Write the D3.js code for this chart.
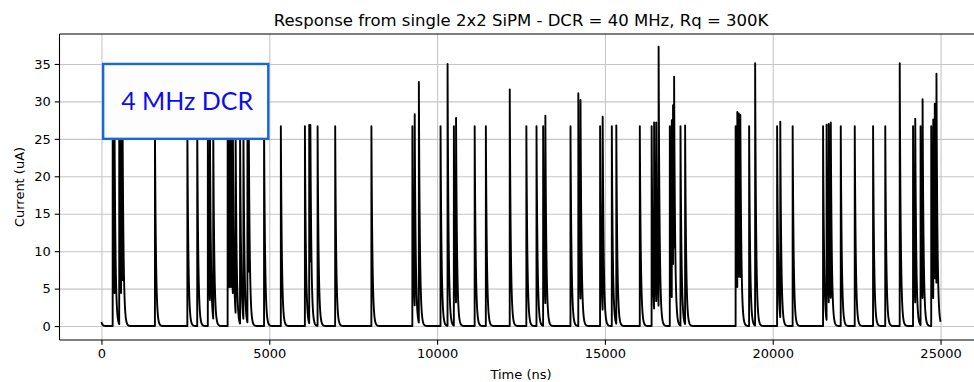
<!DOCTYPE html>
<html>
<head>
<meta charset="utf-8">
<script src="https://cdn.jsdelivr.net/npm/d3@7"></script>
<style>
  html, body { margin: 0; padding: 0; background: #fff; }
  svg { display: block; font-family: "DejaVu Sans", sans-serif; }
</style>
</head>
<body>
<div class="svg-container"></div>
<script>
// pulse arrival times (ns) and the peak current seen at each one (uA)
const pulseTimes = [
  335, 390, 530, 585, 630, 1594, 2560, 2854, 3170, 3232, 3331,
  3760, 3810, 3860, 3915, 3997, 4130, 4230, 4350, 4390, 4845,
  5345, 6062, 6190, 6225, 6440, 6964, 8043,
  9264, 9333, 9457, 10103, 10312, 10500, 10565, 11120, 11453,
  12165, 12660, 12962, 13160, 13226, 13975, 14208, 14273,
  14857, 14933, 15206, 15340, 16040, 16392, 16466, 16530, 16600,
  16934, 16993, 17030, 17062, 17252, 17390,
  18895, 18945, 18990, 19035, 19297, 19476, 20131, 20225, 20594,
  21500, 21605, 21670, 21730, 22027, 22444, 22990, 23353, 23784,
  24181, 24246, 24405, 24465, 24723, 24783, 24828, 24878
];
const pulsePeaks = [
  26.7, 26.7, 26.7, 26.7, 26.7, 26.7, 26.7, 26.7, 26.7, 26.7, 26.7,
  26.7, 26.7, 26.7, 26.7, 26.7, 26.7, 26.7, 26.7, 26.7, 26.7,
  26.7, 26.7, 26.85, 26.85, 26.7, 26.7, 26.7,
  26.7, 28.3, 32.6, 26.7, 35.0, 26.7, 27.8, 26.7, 26.7,
  31.6, 26.7, 26.7, 26.7, 28.1, 26.7, 31.1, 30.2,
  26.7, 27.95, 26.7, 26.8, 26.7, 26.7, 27.2, 27.2, 37.3,
  26.7, 27.5, 29.5, 33.3, 26.7, 26.8,
  26.7, 28.6, 28.4, 28.2, 26.7, 35.1, 26.7, 27.3, 26.7,
  26.7, 26.9, 27.0, 27.2, 26.7, 26.7, 26.7, 26.7, 35.1,
  26.7, 27.7, 26.7, 30.3, 26.7, 27.6, 29.7, 33.7
];
const startCurrent = 0.55;   // tail of a pulse before t = 0
const decayTau = 30;         // ns
const tEnd = 25000;

const xTicks = [0, 5000, 10000, 15000, 20000, 25000];
const yTicks = [0, 5, 10, 15, 20, 25, 30, 35];
const titleText = "Response from single 2x2 SiPM - DCR = 40 MHz, Rq = 300K";
const boxText = "4 MHz DCR";

const width = 974, height = 382;
const margin = { top: 34, bottom: 42, left: 59.5, right: -8.5 };

// build the trace at 1 ns steps: peaks at the pulse times, exponential tail in between
const peakAt = new Map(pulseTimes.map((t, i) => [t, pulsePeaks[i]]));
const trace = [];
const k = Math.exp(-1 / decayTau);
let v = startCurrent;
for (let t = 0; t <= tEnd; t++) {
  if (t > 0) v *= k;
  if (peakAt.has(t)) v = Math.max(v, peakAt.get(t));
  trace.push({ t: t, i: v });
}

const svg = d3.select('.svg-container').append('svg')
  .attr('width', width)
  .attr('height', height);

const x = d3.scaleLinear()
  .domain([-1250, 26250])
  .range([margin.left, width - margin.right]);

const y = d3.scaleLinear()
  .domain([-1.86, 39.0])
  .range([height - margin.bottom, margin.top]);

const plotH = height - margin.bottom - margin.top;
const plotW = width - margin.right - margin.left;

svg.append('clipPath').attr('id', 'plot-clip')
  .append('rect')
  .attr('x', margin.left).attr('y', margin.top)
  .attr('width', plotW).attr('height', plotH);

// grid
svg.append('g')
  .attr('transform', `translate(0, ${height - margin.bottom})`)
  .call(d3.axisBottom(x).tickValues(xTicks).tickSize(-plotH).tickFormat(''))
  .call(g => g.select('.domain').remove())
  .call(g => g.selectAll('line').attr('stroke', '#c6c6c6').attr('stroke-width', 1.1));

svg.append('g')
  .attr('transform', `translate(${margin.left}, 0)`)
  .call(d3.axisLeft(y).tickValues(yTicks).tickSize(-plotW).tickFormat(''))
  .call(g => g.select('.domain').remove())
  .call(g => g.selectAll('line').attr('stroke', '#c6c6c6').attr('stroke-width', 1.1));

// the trace
const line = d3.line()
  .x(d => x(d.t))
  .y(d => y(d.i));

svg.append('path')
  .datum(trace)
  .attr('clip-path', 'url(#plot-clip)')
  .attr('fill', 'none')
  .attr('stroke', '#000')
  .attr('stroke-width', 1.9)
  .attr('stroke-linejoin', 'round')
  .attr('d', line);

// axes
const xAxis = svg.append('g')
  .attr('transform', `translate(0, ${height - margin.bottom})`)
  .call(d3.axisBottom(x).tickValues(xTicks).tickSize(4.8).tickPadding(4).tickFormat(d3.format('d')));

const yAxis = svg.append('g')
  .attr('transform', `translate(${margin.left}, 0)`)
  .call(d3.axisLeft(y).tickValues(yTicks).tickSize(4.8).tickPadding(4).tickFormat(d3.format('d')));

[xAxis, yAxis].forEach(g => {
  g.select('.domain').remove();
  g.selectAll('line').attr('stroke', '#000').attr('stroke-width', 1.1);
  g.selectAll('text')
    .attr('fill', '#000')
    .style('font-family', '"DejaVu Sans", sans-serif')
    .style('font-size', '13px');
});

// spines (left, top, bottom; the right one lies past the window edge)
const spines = svg.append('g').attr('stroke', '#000').attr('stroke-width', 1.1).attr('fill', 'none');
spines.append('line').attr('x1', margin.left).attr('x2', margin.left)
  .attr('y1', margin.top).attr('y2', height - margin.bottom);
spines.append('line').attr('x1', margin.left).attr('x2', width - margin.right)
  .attr('y1', margin.top).attr('y2', margin.top);
spines.append('line').attr('x1', margin.left).attr('x2', width - margin.right)
  .attr('y1', height - margin.bottom).attr('y2', height - margin.bottom);

// title and labels
svg.append('text')
  .attr('x', margin.left + plotW / 2)
  .attr('y', 26)
  .attr('text-anchor', 'middle')
  .style('font-size', '16.5px')
  .text(titleText);

svg.append('text')
  .attr('x', margin.left + plotW / 2)
  .attr('y', 379)
  .attr('text-anchor', 'middle')
  .style('font-size', '13px')
  .text('Time (ns)');

svg.append('text')
  .attr('transform', 'rotate(-90)')
  .attr('x', -(margin.top + plotH / 2))
  .attr('y', 24)
  .attr('text-anchor', 'middle')
  .style('font-size', '13px')
  .text('Current (uA)');

// annotation box
const bx0 = x(50), bx1 = x(4970), by0 = y(35), by1 = y(25);
svg.append('rect')
  .attr('x', bx0).attr('y', by0)
  .attr('width', bx1 - bx0).attr('height', by1 - by0)
  .attr('fill', '#fdfdfd')
  .attr('stroke', '#1768da')
  .attr('stroke-width', 2.4);

svg.append('text')
  .attr('x', (bx0 + bx1) / 2 + 1.5)
  .attr('y', (by0 + by1) / 2 + 9)
  .attr('text-anchor', 'middle')
  .attr('fill', '#0c0cf2')
  .style('font-family', 'Lato, "Open Sans", sans-serif')
  .style('font-size', '25px')
  .text(boxText);
</script>
</body>
</html>
